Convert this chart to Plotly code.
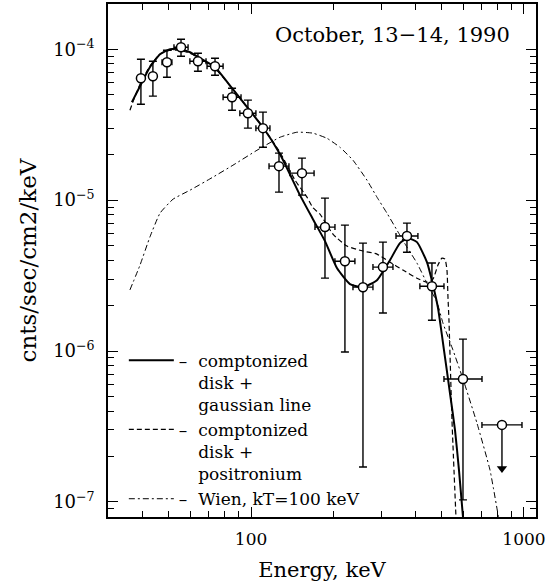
import plotly.graph_objects as go

# ---------------- data ----------------
# measured points: energy (keV) with bin edges, flux with error limits
E = [39.5, 43.7, 49.2, 55.4, 63.9, 73.8, 85.2, 97.4, 110.6, 126.6, 153.7, 186.6,
     220.8, 257.1, 304.3, 372.6, 460.0, 597.7]
E_lo = [38.5, 42.6, 47.2, 52.2, 59.7, 69.0, 79.0, 91.0, 104.2, 116.4, 138.8, 171.5,
        202.9, 236.3, 279.7, 339.7, 415.5, 509.1]
E_hi = [40.5, 44.8, 51.3, 58.8, 68.4, 79.0, 91.9, 104.2, 117.3, 137.7, 170.2, 203.0,
        240.2, 279.7, 331.1, 408.7, 509.2, 701.7]
F = [6.43e-5, 6.62e-5, 8.20e-5, 1.031e-4, 8.33e-5, 7.72e-5, 4.81e-5, 3.77e-5, 3.00e-5,
     1.68e-5, 1.51e-5, 6.63e-6, 3.94e-6, 2.65e-6, 3.60e-6, 5.78e-6, 2.69e-6, 6.53e-7]
F_hi = [8.59e-5, 8.33e-5, 9.85e-5, 1.165e-4, 9.41e-5, 8.72e-5, 5.52e-5, 4.60e-5, 3.83e-5,
        2.05e-5, 1.90e-5, 1.031e-5, 6.83e-6, 5.19e-6, 5.27e-6, 7.04e-6, 3.83e-6, 1.20e-6]
F_lo = [4.32e-5, 4.89e-5, 6.53e-5, 8.99e-5, 7.15e-5, 6.73e-5, 3.94e-5, 3.00e-5, 2.24e-5,
        1.13e-5, 1.08e-5, 3.04e-6, 9.85e-7, 1.705e-7, 1.785e-6, 4.52e-6, 1.60e-6, 1.031e-7]

# upper limit point
UL_E = [830.4]
UL_E_lo = [701.4]
UL_E_hi = [983.2]
UL_F = [3.24e-7]
UL_arrow_F = [1.667e-7]

# model: comptonized disk + gaussian line (solid)
solid_E = [36.6, 39.2, 42.6, 46.4, 50.5, 54.9, 59.8, 65.0, 73.8, 85.2, 97.4, 110.6, 127.6,
           151.1, 168.6, 186.6, 206.4, 230.4, 257.1, 289.3, 322.8, 351.2, 375.7, 405.4,
           441.0, 464.0, 484.0, 509.2, 535.5, 558.7, 577.8, 597.7, 602.6]
solid_F = [4.46e-5, 5.69e-5, 7.60e-5, 9.27e-5, 1.00e-4, 1.00e-4, 9.55e-5, 8.72e-5, 7.60e-5,
           5.52e-5, 4.07e-5, 3.04e-5, 2.02e-5, 1.08e-5, 7.48e-6, 5.35e-6, 3.55e-6, 2.78e-6,
           2.65e-6, 2.95e-6, 4.00e-6, 5.19e-6, 5.60e-6, 5.27e-6, 3.88e-6, 2.74e-6, 1.93e-6,
           1.015e-6, 5.27e-7, 3.00e-7, 1.63e-7, 7.96e-8, 7.0e-8]

# model: comptonized disk + positronium (dashed)
dash_E = [36.0, 37.6, 39.2, 42.6, 46.4, 50.5, 54.9, 59.8, 65.0, 73.8, 85.2, 97.4, 110.6,
          127.6, 144.9, 160.3, 168.6, 178.9, 199.6, 224.6, 257.1, 289.3, 322.8, 360.2,
          405.4, 441.0, 464.0, 484.0, 500.6, 513.4, 522.2, 526.6, 531.1, 544.7, 565.0]
dash_F = [3.94e-5, 4.89e-5, 5.86e-5, 7.72e-5, 9.27e-5, 9.85e-5, 9.85e-5, 9.41e-5, 8.72e-5,
          7.48e-5, 5.52e-5, 4.07e-5, 3.04e-5, 2.08e-5, 1.357e-5, 1.047e-5, 8.9e-6, 8.08e-6,
          5.95e-6, 4.96e-6, 4.60e-6, 4.39e-6, 3.88e-6, 3.44e-6, 3.04e-6, 2.86e-6, 3.00e-6,
          3.71e-6, 4.13e-6, 4.07e-6, 3.44e-6, 2.28e-6, 1.60e-6, 3.49e-7, 7.0e-8]

# model: Wien, kT=100 keV (dash-dot)
wien_E = [36.0, 39.2, 42.6, 46.4, 51.8, 59.8, 72.5, 85.9, 105.1, 127.6, 147.3, 168.6,
          189.8, 211.8, 236.3, 265.9, 289.3, 314.8, 342.4, 372.6, 405.4, 441.0, 479.9,
          504.9, 549.3, 597.7, 672.5, 750.5, 816.0]
wien_F = [2.54e-6, 3.71e-6, 5.69e-6, 8.20e-6, 1.015e-5, 1.165e-5, 1.42e-5, 1.705e-5,
          2.14e-5, 2.61e-5, 2.82e-5, 2.78e-5, 2.57e-5, 2.24e-5, 1.84e-5, 1.357e-5,
          1.047e-5, 8.20e-6, 6.33e-6, 4.88e-6, 3.83e-6, 2.82e-6, 2.11e-6, 1.53e-6,
          1.015e-6, 6.53e-7, 3.33e-7, 1.63e-7, 7.0e-8]

x_major = [100, 1000]
x_major_text = ["100", "1000"]
x_minor = [40, 50, 60, 70, 80, 90, 200, 300, 400, 500, 600, 700, 800, 900]
y_major = [1e-7, 1e-6, 1e-5, 1e-4]
y_major_text = ["10<sup>−7</sup>", "10<sup>−6</sup>", "10<sup>−5</sup>", "10<sup>−4</sup>"]
y_minor = [8e-8, 9e-8,
           2e-7, 3e-7, 4e-7, 5e-7, 6e-7, 7e-7, 8e-7, 9e-7,
           2e-6, 3e-6, 4e-6, 5e-6, 6e-6, 7e-6, 8e-6, 9e-6,
           2e-5, 3e-5, 4e-5, 5e-5, 6e-5, 7e-5, 8e-5, 9e-5]

title_text = "October, 13−14, 1990"
x_title = "Energy, keV"
y_title = "cnts/sec/cm2/keV"

# ---------------- figure ----------------
FONT = "DejaVu Serif"
IND = "\u2002\u00a0\u00a0"
fig = go.Figure()

fig.add_trace(go.Scatter(
    x=solid_E, y=solid_F, mode="lines",
    line=dict(color="black", width=2, shape="spline", smoothing=0.5),
    name="–\u00a0\u00a0comptonized<br>" + IND + "disk +<br>" + IND + "gaussian line"))
fig.add_trace(go.Scatter(
    x=dash_E, y=dash_F, mode="lines",
    line=dict(color="black", width=1.2, dash="5px,3px", shape="spline", smoothing=0.5),
    name="–\u00a0\u00a0comptonized<br>" + IND + "disk +<br>" + IND + "positronium"))
fig.add_trace(go.Scatter(
    x=wien_E, y=wien_F, mode="lines",
    line=dict(color="black", width=1, dash="6px,3px,2px,3px", shape="spline", smoothing=0.4),
    name="–\u00a0\u00a0Wien, kT=100 keV"))

fig.add_trace(go.Scatter(
    x=E, y=F, mode="markers", showlegend=False,
    marker=dict(symbol="circle", size=9, color="white", line=dict(color="black", width=1.5)),
    error_x=dict(type="data", symmetric=False,
                 array=[h - e for h, e in zip(E_hi, E)],
                 arrayminus=[e - l for e, l in zip(E, E_lo)],
                 color="black", thickness=1.4, width=3),
    error_y=dict(type="data", symmetric=False,
                 array=[h - f for h, f in zip(F_hi, F)],
                 arrayminus=[f - l for f, l in zip(F, F_lo)],
                 color="black", thickness=1.4, width=4)))

fig.add_trace(go.Scatter(
    x=UL_E, y=UL_F, mode="markers", showlegend=False,
    marker=dict(symbol="circle", size=9, color="white", line=dict(color="black", width=1.5)),
    error_x=dict(type="data", symmetric=False,
                 array=[h - e for h, e in zip(UL_E_hi, UL_E)],
                 arrayminus=[e - l for e, l in zip(UL_E, UL_E_lo)],
                 color="black", thickness=1.4, width=3),
    error_y=dict(type="data", symmetric=False, array=[0],
                 arrayminus=[f - a for f, a in zip(UL_F, UL_arrow_F)],
                 color="black", thickness=1.4, width=0)))
fig.add_trace(go.Scatter(
    x=UL_E, y=UL_arrow_F, mode="markers", showlegend=False,
    marker=dict(symbol="triangle-down", size=9, color="black", line=dict(width=0))))

axis_common = dict(
    type="log", showline=True, linecolor="black", linewidth=1.5, mirror="ticks",
    ticks="inside", ticklen=10, tickwidth=1.2, tickcolor="black",
    showgrid=False, zeroline=False, automargin=False,
)

fig.update_layout(
    width=555, height=585,
    margin=dict(l=108, r=19, t=4, b=68),
    paper_bgcolor="white", plot_bgcolor="white",
    font=dict(family=FONT, color="black"),
    xaxis=dict(
        axis_common, range=[1.476, 3.044],
        tickmode="array", tickvals=x_major, ticktext=x_major_text,
        tickfont=dict(family=FONT, size=17, color="black"),
        ticklabelstandoff=6,
        minor=dict(ticks="inside", ticklen=6, tickwidth=1.2, tickcolor="black",
                   tickmode="array", tickvals=x_minor, showgrid=False),
        title=dict(text=x_title, font=dict(family=FONT, size=21, color="black"), standoff=14),
    ),
    yaxis=dict(
        axis_common, range=[-7.1, -3.70],
        tickmode="array", tickvals=y_major, ticktext=y_major_text,
        tickfont=dict(family=FONT, size=18, color="black"),
        ticklabelstandoff=8,
        minor=dict(ticks="inside", ticklen=6, tickwidth=1.2, tickcolor="black",
                   tickmode="array", tickvals=y_minor, showgrid=False),
        title=dict(text=y_title, font=dict(family=FONT, size=23, color="black"), standoff=10),
    ),
    legend=dict(
        x=0.037, y=0.34, xanchor="left", yanchor="top",
        bgcolor="rgba(0,0,0,0)", borderwidth=0,
        font=dict(family=FONT, size=17, color="black"),
        itemwidth=45, valign="top", tracegroupgap=0,
    ),
    annotations=[dict(
        text=title_text, xref="paper", yref="paper", x=0.6636, y=0.9396,
        xanchor="center", yanchor="middle", showarrow=False,
        font=dict(family=FONT, size=21, color="black"))],
)

fig.write_html("out.html")
